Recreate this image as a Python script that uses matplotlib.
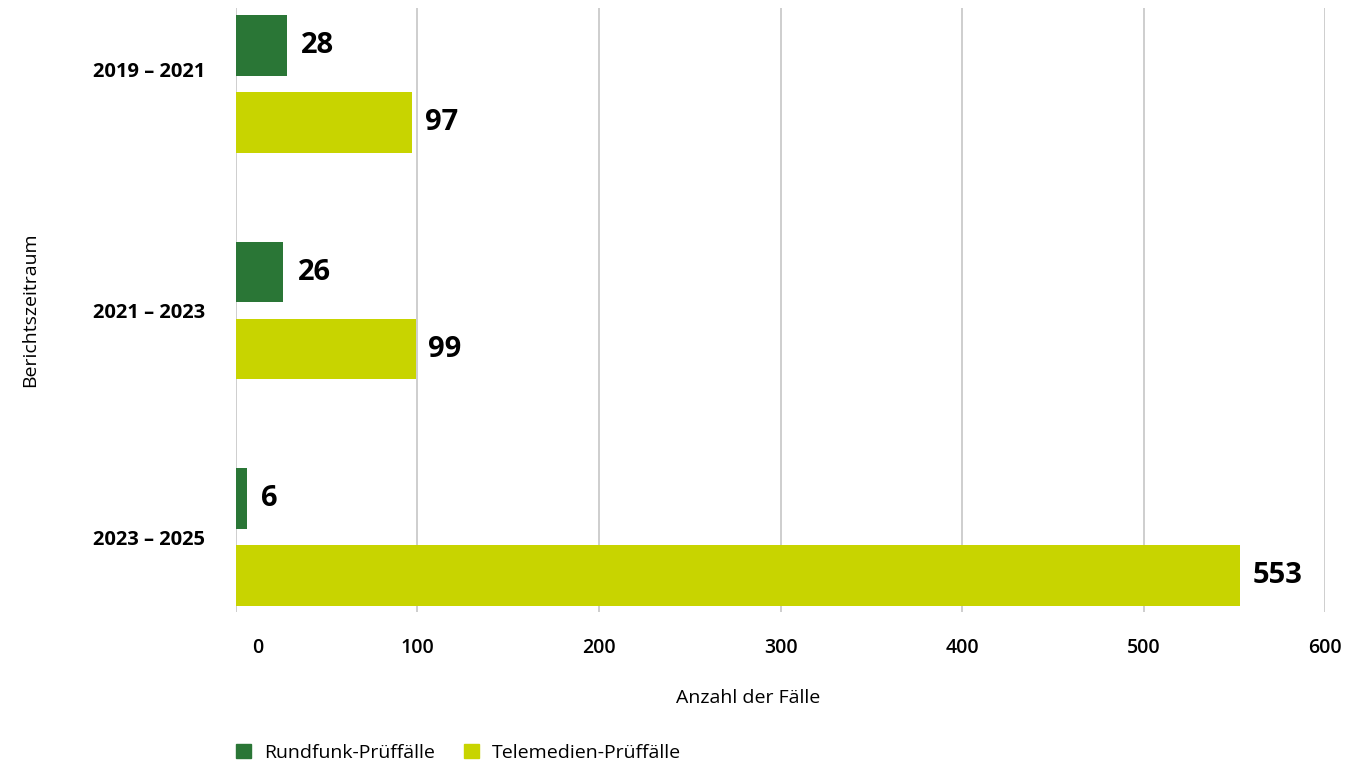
import matplotlib
matplotlib.use('Agg')
from matplotlib import pyplot as plt
from matplotlib.patches import Patch
from matplotlib.transforms import ScaledTranslation
import numpy as np

plt.rcParams['font.family'] = ['Open Sans', 'DejaVu Sans']

perioden = ['2019 – 2021', '2021 – 2023', '2023 – 2025']
rundfunk = [28, 26, 6]
telemedien = [97, 99, 553]
xticks = [0, 100, 200, 300, 400, 500, 600]

dunkelgruen = '#2a7636'
hellgruen = '#c8d400'

fig = plt.figure(figsize=(13.68, 7.64), dpi=100)
ax = fig.add_axes([0.1725, 0.199, 0.7961, 0.7905])

y = np.arange(len(perioden))
h = 0.268
off = 0.17
ax.barh(y - off, rundfunk, height=h, color=dunkelgruen, zorder=3)
ax.barh(y + off, telemedien, height=h, color=hellgruen, zorder=3)

for yi, v in zip(y - off, rundfunk):
    ax.text(v + 8, yi, str(v), va='center', ha='left', fontsize=21, fontweight='bold')
for yi, v in zip(y + off, telemedien):
    ax.text(v + 7, yi, str(v), va='center', ha='left', fontsize=21, fontweight='bold')

ax.set_xlim(0, 600)
ax.set_ylim(2.33, -0.335)
ax.set_xticks(xticks)
ax.set_xticklabels([str(t) for t in xticks], fontsize=14, fontweight='semibold')
ax.set_yticks(y)
ax.set_yticklabels(perioden, fontsize=14.5, fontweight='bold')
ax.tick_params(axis='x', length=0, pad=19)
ax.tick_params(axis='y', length=0, pad=22)
# die Null steht im Original etwas nach rechts versetzt, das erste Label etwas hoeher
lab0 = ax.get_xticklabels()[0]
lab0.set_transform(lab0.get_transform() + ScaledTranslation(0.22, 0, fig.dpi_scale_trans))
ylab0 = ax.get_yticklabels()[0]
ylab0.set_transform(ylab0.get_transform() + ScaledTranslation(0, 0.14, fig.dpi_scale_trans))
ax.xaxis.grid(True, color='#c6c6c6', linewidth=1.2, zorder=0)
for s in ax.spines.values():
    s.set_visible(False)

ax.set_xlabel('Anzahl der Fälle', fontsize=14)
ax.xaxis.set_label_coords(0.470, -0.127)
ax.set_ylabel('Berichtszeitraum', fontsize=14, va='center')
ax.yaxis.set_label_coords(-0.189, 0.5)

handles = [Patch(color=dunkelgruen, label='Rundfunk-Prüffälle'),
           Patch(color=hellgruen, label='Telemedien-Prüffälle')]
fig.legend(handles=handles, loc='center left', bbox_to_anchor=(0.1725, 0.0144), ncol=2,
           frameon=False, fontsize=14, handlelength=0.77, handleheight=0.77,
           handletextpad=0.67, columnspacing=1.5, borderpad=0, borderaxespad=0)

fig.savefig('out.png', dpi=100)
